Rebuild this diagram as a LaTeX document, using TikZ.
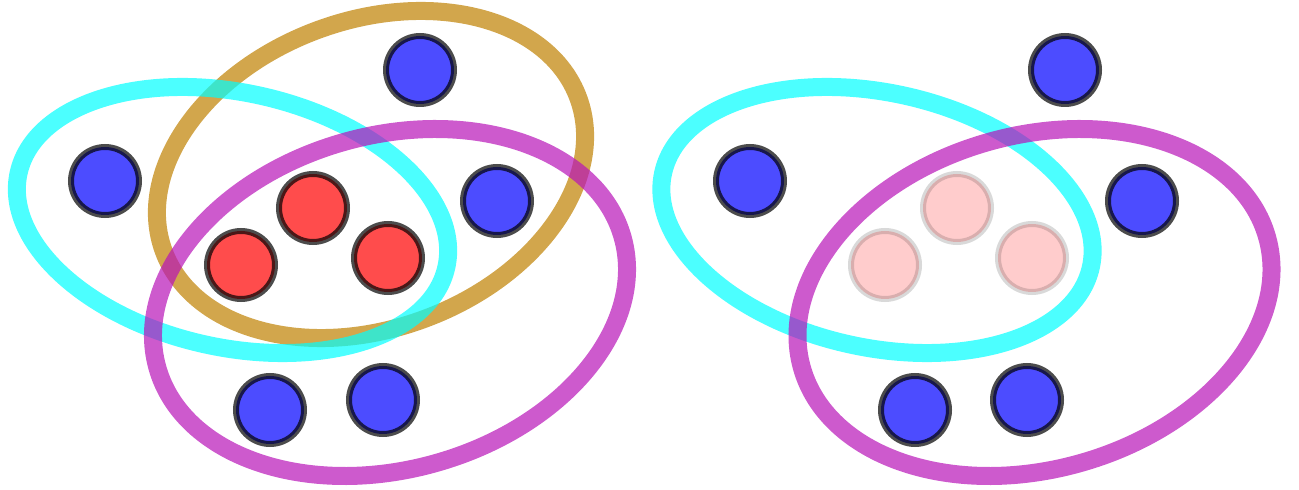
\documentclass[tikz,border=0pt]{standalone}
\begin{document}
\begin{tikzpicture}[x=1pt,y=1pt,
  ring/.style={line width=18pt, draw opacity=0.7},
  dot/.style={circle, inner sep=0pt, minimum size=68pt, line width=6pt, draw=black},
  bluedot/.style={dot, fill=blue, fill opacity=0.7, draw opacity=0.7},
  reddot/.style={dot, fill=red, fill opacity=0.7, draw opacity=0.7},
  fadedot/.style={dot, fill=red, fill opacity=0.2, draw opacity=0.15}]
\definecolor{ringcyan}{RGB}{0,255,255}
\definecolor{ringgold}{RGB}{191,128,0}
\definecolor{ringmag}{RGB}{184,20,184}
\useasboundingbox (0,0) rectangle (1299,490);
% left panel
\draw[ring, ringgold, rotate around={20.3:(371,315.5)}] (371,315.5) ellipse [x radius=221, y radius=154];
\draw[ring, ringcyan, rotate around={-12.4:(232.5,270)}] (232.5,270) ellipse [x radius=219, y radius=127.4];
\draw[ring, ringmag, rotate around={15.6:(390,187.5)}] (390,187.5) ellipse [x radius=241.6, y radius=167];
\node[bluedot] (lb1) at (105,309) {};
\node[bluedot] (lb2) at (420,420) {};
\node[bluedot] (lb3) at (497,289) {};
\node[bluedot] (lb4) at (270,80) {};
\node[bluedot] (lb5) at (383,90) {};
\node[reddot] (lr1) at (313,282) {};
\node[reddot] (lr2) at (241,225) {};
\node[reddot] (lr3) at (388,232) {};
% right panel
\draw[ring, ringcyan, rotate around={-12.4:(877,270)}] (877,270) ellipse [x radius=219, y radius=127.4];
\draw[ring, ringmag, rotate around={15.6:(1034.5,187.5)}] (1034.5,187.5) ellipse [x radius=241.6, y radius=167];
\node[bluedot] (rb1) at (750,309) {};
\node[bluedot] (rb2) at (1065,420) {};
\node[bluedot] (rb3) at (1142,289) {};
\node[bluedot] (rb4) at (915,80) {};
\node[bluedot] (rb5) at (1027,90) {};
\node[fadedot] (rf1) at (957,282) {};
\node[fadedot] (rf2) at (885,225) {};
\node[fadedot] (rf3) at (1032,232) {};
\end{tikzpicture}
\end{document}
